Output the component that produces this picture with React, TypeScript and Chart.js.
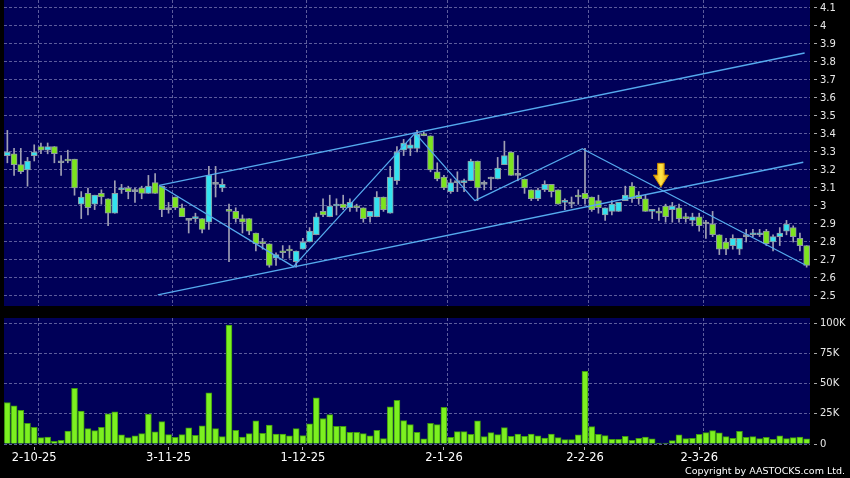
import React, { useEffect, useRef } from "react";
import { Chart, registerables } from "chart.js";

Chart.register(...registerables);

// ---------- data ----------
const dates = [
  "25-9-25", "26-9-25", "29-9-25", "30-9-25",
  "2-10-25", "3-10-25", "6-10-25", "8-10-25", "9-10-25", "10-10-25",
  "13-10-25", "14-10-25", "15-10-25", "16-10-25", "17-10-25",
  "20-10-25", "21-10-25", "22-10-25", "23-10-25", "24-10-25",
  "27-10-25", "28-10-25", "30-10-25", "31-10-25",
  "3-11-25", "4-11-25", "5-11-25", "6-11-25", "7-11-25",
  "10-11-25", "11-11-25", "12-11-25", "13-11-25", "14-11-25",
  "17-11-25", "18-11-25", "19-11-25", "20-11-25", "21-11-25",
  "24-11-25", "25-11-25", "26-11-25", "27-11-25", "28-11-25",
  "1-12-25", "2-12-25", "3-12-25", "4-12-25", "5-12-25",
  "8-12-25", "9-12-25", "10-12-25", "11-12-25", "12-12-25",
  "15-12-25", "16-12-25", "17-12-25", "18-12-25", "19-12-25",
  "22-12-25", "23-12-25", "24-12-25", "29-12-25", "30-12-25", "31-12-25",
  "2-1-26", "5-1-26", "6-1-26", "7-1-26", "8-1-26", "9-1-26",
  "12-1-26", "13-1-26", "14-1-26", "15-1-26", "16-1-26",
  "19-1-26", "20-1-26", "21-1-26", "22-1-26", "23-1-26",
  "26-1-26", "27-1-26", "28-1-26", "29-1-26", "30-1-26",
  "2-2-26", "3-2-26", "4-2-26", "5-2-26", "6-2-26",
  "9-2-26", "10-2-26", "11-2-26", "12-2-26", "13-2-26",
  "16-2-26", "20-2-26", "23-2-26", "24-2-26", "25-2-26", "26-2-26", "27-2-26",
  "2-3-26", "3-3-26", "4-3-26", "5-3-26", "6-3-26",
  "9-3-26", "10-3-26", "11-3-26", "12-3-26", "13-3-26",
  "16-3-26", "17-3-26", "18-3-26", "19-3-26", "20-3-26",
  "23-3-26", "24-3-26",
];

const opens = [
  3.28, 3.29, 3.23, 3.2, 3.28, 3.33, 3.31, 3.33, 3.24, 3.26,
  3.26, 3.01, 3.07, 3.01, 3.07, 3.04, 2.96, 3.09, 3.1, 3.08,
  3.1, 3.07, 3.13, 3.11, 2.98, 3.05, 2.99, 2.92, 2.93, 2.93,
  2.91, 3.12, 3.1, 2.98, 2.97, 2.93, 2.93, 2.85, 2.8, 2.79,
  2.71, 2.75, 2.76, 2.69, 2.76, 2.8, 2.84, 2.97, 2.94, 3.0,
  3.01, 2.99, 3.0, 2.99, 2.94, 2.94, 3.05, 2.96, 3.14, 3.31,
  3.32, 3.32, 3.4, 3.39, 3.19, 3.16, 3.08, 3.13, 3.13, 3.14,
  3.25, 3.12, 3.15, 3.15, 3.23, 3.3, 3.17, 3.15, 3.09, 3.04,
  3.09, 3.12, 3.09, 3.02, 3.01, 3.06, 3.07, 3.05, 3.03, 2.95,
  2.97, 2.97, 3.03, 3.11, 3.06, 3.04, 2.97, 2.97, 3.0, 2.98,
  2.99, 2.94, 2.92, 2.94, 2.9, 2.9, 2.84, 2.8, 2.78, 2.76,
  2.83, 2.84, 2.84, 2.86, 2.8, 2.83, 2.86, 2.88, 2.82, 2.78,
];
const highs = [
  3.42, 3.32, 3.32, 3.27, 3.34, 3.35, 3.35, 3.33, 3.28, 3.31,
  3.26, 3.08, 3.1, 3.06, 3.09, 3.04, 3.14, 3.12, 3.11, 3.1,
  3.11, 3.17, 3.18, 3.11, 3.02, 3.05, 3.01, 2.93, 2.96, 2.93,
  3.22, 3.22, 3.15, 3.01, 2.99, 2.95, 2.93, 2.85, 2.82, 2.79,
  2.74, 2.78, 2.78, 2.75, 2.82, 2.88, 2.96, 3.04, 3.06, 3.04,
  3.06, 3.04, 3.01, 2.99, 2.97, 3.08, 3.05, 3.22, 3.33, 3.37,
  3.37, 3.42, 3.41, 3.39, 3.24, 3.17, 3.15, 3.19, 3.15, 3.26,
  3.25, 3.14, 3.16, 3.27, 3.36, 3.3, 3.28, 3.15, 3.09, 3.1,
  3.14, 3.12, 3.09, 3.04, 3.05, 3.09, 3.32, 3.05, 3.06, 2.99,
  3.03, 3.02, 3.11, 3.13, 3.08, 3.06, 2.98, 2.99, 3.01, 3.02,
  3.01, 2.96, 2.96, 2.96, 2.92, 2.97, 2.84, 2.82, 2.84, 2.82,
  2.87, 2.87, 2.87, 2.87, 2.84, 2.88, 2.92, 2.89, 2.85, 2.78,
];
const lows = [
  3.24, 3.17, 3.18, 3.11, 3.25, 3.29, 3.29, 3.24, 3.17, 3.24,
  3.06, 2.93, 2.95, 2.98, 3.01, 2.89, 2.96, 3.07, 3.04, 3.02,
  3.04, 3.07, 3.07, 2.94, 2.96, 2.98, 2.94, 2.85, 2.91, 2.85,
  2.87, 3.05, 3.08, 2.69, 2.91, 2.85, 2.84, 2.75, 2.76, 2.66,
  2.67, 2.71, 2.71, 2.66, 2.76, 2.8, 2.84, 2.94, 2.94, 2.95,
  2.98, 2.97, 2.97, 2.91, 2.91, 2.94, 2.97, 2.96, 3.12, 3.28,
  3.28, 3.3, 3.39, 3.19, 3.14, 3.09, 3.07, 3.08, 3.08, 3.14,
  3.03, 3.09, 3.09, 3.15, 3.23, 3.17, 3.14, 3.07, 3.03, 3.03,
  3.08, 3.05, 3.01, 2.98, 2.99, 3.01, 3.01, 2.97, 2.96, 2.92,
  2.95, 2.97, 3.03, 3.02, 3.01, 2.97, 2.93, 2.92, 2.91, 2.91,
  2.91, 2.91, 2.89, 2.86, 2.82, 2.83, 2.73, 2.73, 2.76, 2.73,
  2.8, 2.83, 2.83, 2.78, 2.75, 2.78, 2.84, 2.8, 2.75, 2.66,
];
const closes = [
  3.3, 3.23, 3.19, 3.25, 3.3, 3.31, 3.33, 3.29, 3.24, 3.25,
  3.1, 3.05, 2.99, 3.06, 3.05, 2.96, 3.07, 3.1, 3.08, 3.08,
  3.07, 3.11, 3.07, 2.98, 2.98, 2.99, 2.94, 2.92, 2.94, 2.87,
  3.17, 3.12, 3.12, 2.97, 2.93, 2.91, 2.86, 2.79, 2.79, 2.67,
  2.73, 2.74, 2.75, 2.75, 2.8, 2.86, 2.94, 2.95, 3.0, 3.01,
  2.99, 3.02, 2.99, 2.93, 2.97, 3.05, 2.98, 3.16, 3.3, 3.35,
  3.34, 3.4, 3.39, 3.2, 3.15, 3.1, 3.13, 3.13, 3.14, 3.25,
  3.1, 3.12, 3.15, 3.21, 3.28, 3.17, 3.17, 3.1, 3.04, 3.09,
  3.12, 3.08, 3.01, 3.03, 3.01, 3.05, 3.04, 2.98, 2.99, 2.99,
  3.01, 3.02, 3.06, 3.04, 3.04, 2.97, 2.98, 2.96, 2.94, 3.0,
  2.93, 2.93, 2.94, 2.89, 2.9, 2.84, 2.76, 2.76, 2.82, 2.82,
  2.83, 2.85, 2.85, 2.79, 2.83, 2.85, 2.9, 2.83, 2.78, 2.67,
];
// volume in thousands of shares
const volumesK = [
  34.4, 31.7, 27.8, 17.2, 13.9, 5.3, 5.8, 2.2, 3.1, 10.8,
  46.1, 27.2, 12.8, 11.1, 13.9, 25.0, 26.7, 7.5, 5.3, 6.7,
  8.6, 24.7, 10.0, 18.6, 7.8, 5.6, 7.8, 13.3, 7.2, 15.0,
  42.5, 12.8, 6.1, 98.6, 11.4, 5.8, 8.6, 19.2, 8.9, 15.6,
  8.3, 8.3, 6.7, 12.8, 6.9, 16.7, 38.3, 21.1, 24.4, 14.7,
  14.7, 9.7, 9.7, 8.6, 6.7, 11.4, 4.4, 30.8, 36.1, 19.4,
  16.1, 9.7, 4.2, 17.2, 16.1, 30.3, 5.6, 10.3, 10.3, 8.1,
  19.2, 6.1, 9.4, 7.8, 13.6, 6.4, 8.3, 6.4, 8.3, 6.7,
  5.0, 8.3, 5.3, 3.6, 3.6, 7.5, 60.3, 14.4, 8.1, 6.9,
  3.9, 3.9, 6.4, 3.1, 4.7, 5.8, 4.2, 0.8, 0.8, 2.8,
  7.5, 4.4, 4.7, 8.1, 9.4, 11.1, 9.2, 6.1, 4.7, 10.6,
  5.6, 6.1, 4.4, 5.6, 3.9, 6.7, 4.4, 5.3, 5.8, 4.2,
];

const dateTickLabels = ["2-10-25", "3-11-25", "1-12-25", "2-1-26", "2-2-26", "2-3-26"];
const priceTicks = [2.5, 2.6, 2.7, 2.8, 2.9, 3.0, 3.1, 3.2, 3.3, 3.4, 3.5, 3.6, 3.7, 3.8, 3.9, 4.0, 4.1];
const volumeTicksK = [0, 25, 50, 75, 100];

// drawn trend lines: [candle index (fractional), price]
const channelUpper = [[22.6, 3.115], [118.7, 3.85]];
const channelLower = [[22.4, 2.506], [118.5, 3.243]];
const zigzag = [[22.6, 3.115], [42.6, 2.663], [60.7, 3.405], [69.6, 3.03], [85.6, 3.318], [118.8, 2.672]];
const trendLines = [channelUpper, channelLower, zigzag];
const arrowMark = { idx: 97.3, top: 3.237, tip: 3.106 };

const PRICE_MIN = 2.4444;
const PRICE_MAX = 4.1444;
const VOL_MAX_K = 104.4;

// ---------- styles ----------
const PLOT_BG = "#000058";
const GRID = "#5c5c9c";
const UP = "#33e2f0";
const DOWN = "#7ce41e";
const DOJI = "#9aa0a8";
const BODY_BORDER = "#8f9aa2";
const WICK = "#a0a0b4";
const TREND = "#55aaee";
const FONT = "DejaVu Sans";

function makePanelPlugin(tickIdx: number[]) {
  return {
    id: "panelBg",
    beforeDraw(chart: any) {
      const { ctx, chartArea: a } = chart;
      ctx.save();
      ctx.fillStyle = PLOT_BG;
      ctx.fillRect(a.left, a.top, a.right - a.left, a.bottom - a.top);
      const xs = chart.scales.x;
      ctx.strokeStyle = GRID;
      ctx.lineWidth = 1;
      ctx.setLineDash([3, 2]);
      tickIdx.forEach((i) => {
        const x = Math.round(xs.getPixelForValue(i + 0.5)) + 0.5;
        ctx.beginPath();
        ctx.moveTo(x, a.top);
        ctx.lineTo(x, a.bottom);
        ctx.stroke();
      });
      ctx.restore();
    },
  };
}

// trend lines and the arrow marker, placed through the chart's own scales
const overlayPlugin = {
  id: "overlay",
  afterDatasetsDraw(chart: any) {
    const { ctx, chartArea: a } = chart;
    const xs = chart.scales.x;
    const ys = chart.scales.y;
    ctx.save();
    ctx.beginPath();
    ctx.rect(a.left, a.top, a.right - a.left, a.bottom - a.top);
    ctx.clip();
    ctx.strokeStyle = TREND;
    ctx.lineWidth = 1.3;
    ctx.lineJoin = "round";
    trendLines.forEach((pts) => {
      ctx.beginPath();
      pts.forEach(([i, p], k) => {
        const x = xs.getPixelForValue(i);
        const y = ys.getPixelForValue(p);
        if (k === 0) ctx.moveTo(x, y);
        else ctx.lineTo(x, y);
      });
      ctx.stroke();
    });

    const cx = xs.getPixelForValue(arrowMark.idx);
    const yTop = ys.getPixelForValue(arrowMark.top);
    const yTip = ys.getPixelForValue(arrowMark.tip);
    const headY = yTop + (yTip - yTop) * 0.5;
    const sw = 3.3;
    const hw = 7.5;
    const g = ctx.createLinearGradient(cx - hw, 0, cx + hw, 0);
    g.addColorStop(0, "#e8a000");
    g.addColorStop(0.5, "#ffe64a");
    g.addColorStop(1, "#e8a000");
    ctx.fillStyle = g;
    ctx.strokeStyle = "#c88a00";
    ctx.lineWidth = 1;
    ctx.beginPath();
    ctx.moveTo(cx - sw, yTop);
    ctx.lineTo(cx + sw, yTop);
    ctx.lineTo(cx + sw, headY);
    ctx.lineTo(cx + hw, headY);
    ctx.lineTo(cx, yTip);
    ctx.lineTo(cx - hw, headY);
    ctx.lineTo(cx - sw, headY);
    ctx.closePath();
    ctx.fill();
    ctx.stroke();
    ctx.restore();
  },
};

export default function App() {
  const priceRef = useRef<HTMLCanvasElement>(null);
  const volRef = useRef<HTMLCanvasElement>(null);

  useEffect(() => {
    document.body.style.margin = "0";
    document.body.style.background = "#000";
    Chart.defaults.font.family = FONT;

    const tickIdx = dateTickLabels.map((l) => dates.indexOf(l));
    const bodyColors = closes.map((c, i) => (c > opens[i] ? UP : c < opens[i] ? DOWN : DOJI));

    const price = new Chart(priceRef.current as HTMLCanvasElement, {
      type: "bar",
      data: {
        labels: dates,
        datasets: [
          {
            label: "body",
            data: opens.map((o, i) => [o, closes[i]]),
            backgroundColor: bodyColors,
            borderColor: BODY_BORDER,
            borderWidth: 1,
            borderSkipped: false,
            barThickness: 6,
            minBarLength: 2,
            grouped: false,
            order: 1,
          },
          {
            label: "wick",
            data: lows.map((l, i) => [l, highs[i]]),
            backgroundColor: WICK,
            borderWidth: 0,
            barThickness: 1,
            grouped: false,
            order: 2,
          },
        ] as any,
      },
      options: {
        responsive: false,
        animation: false,
        events: [],
        layout: { padding: { left: 4, top: 0, right: 0, bottom: 4 } },
        plugins: { legend: { display: false }, tooltip: { enabled: false } },
        scales: {
          x: { type: "category", display: false, offset: true },
          y: {
            type: "linear",
            position: "right",
            min: PRICE_MIN,
            max: PRICE_MAX,
            afterBuildTicks: (s: any) => {
              s.ticks = priceTicks.map((v) => ({ value: v }));
            },
            afterFit: (s: any) => {
              s.width = 40;
              s.paddingTop = 0;
              s.paddingBottom = 0;
            },
            ticks: {
              color: "#e8e8e8",
              font: { family: FONT, size: 10 },
              padding: 2,
              callback: (v: any) => String(Number(Number(v).toFixed(1))),
            },
            grid: {
              color: GRID,
              lineWidth: 1,
              drawTicks: true,
              tickLength: 8,
              tickColor: "#a8a8a8",
              tickBorderDash: [0, 4, 3, 30],
              borderDash: [3, 2],
            } as any,
            border: { display: false, dash: [3, 2] },
          },
        } as any,
      },
      plugins: [makePanelPlugin(tickIdx), overlayPlugin],
    } as any);

    const vol = new Chart(volRef.current as HTMLCanvasElement, {
      type: "bar",
      data: {
        labels: dates,
        datasets: [
          {
            label: "volume",
            data: volumesK,
            backgroundColor: "#7cf020",
            borderColor: "#3f9a10",
            borderWidth: 1,
            barThickness: 6,
          },
        ],
      },
      options: {
        responsive: false,
        animation: false,
        events: [],
        layout: { padding: { left: 4, top: 8, right: 0, bottom: 0 } },
        plugins: { legend: { display: false }, tooltip: { enabled: false } },
        scales: {
          x: {
            type: "category",
            offset: true,
            afterBuildTicks: (s: any) => {
              s.ticks = tickIdx.map((v) => ({ value: v }));
            },
            afterFit: (s: any) => {
              s.height = 34;
              s.paddingLeft = 0;
              s.paddingRight = 0;
            },
            ticks: {
              color: "#ffffff",
              font: { family: FONT, size: 11.5 },
              padding: 1,
              autoSkip: false,
              maxRotation: 0,
              minRotation: 0,
            },
            grid: {
              offset: false,
              drawOnChartArea: false,
              drawTicks: true,
              tickLength: 6,
              tickColor: "#a8a8a8",
              tickBorderDash: [0, 3, 3, 30],
            },
            border: { display: false },
          },
          y: {
            type: "linear",
            position: "right",
            min: 0,
            max: VOL_MAX_K,
            afterBuildTicks: (s: any) => {
              s.ticks = volumeTicksK.map((v) => ({ value: v }));
            },
            afterFit: (s: any) => {
              s.width = 40;
              s.paddingTop = 0;
              s.paddingBottom = 0;
            },
            ticks: {
              color: "#e8e8e8",
              font: { family: FONT, size: 10 },
              padding: 2,
              callback: (v: any) => (Number(v) === 0 ? "0" : `${v}K`),
            },
            grid: {
              color: GRID,
              lineWidth: 1,
              drawTicks: true,
              tickLength: 8,
              tickColor: "#a8a8a8",
              tickBorderDash: [0, 4, 3, 30],
              borderDash: [3, 2],
            } as any,
            border: { display: false, dash: [3, 2] },
          },
        } as any,
      },
      plugins: [makePanelPlugin(tickIdx)],
    } as any);

    return () => {
      price.destroy();
      vol.destroy();
    };
  }, []);

  return (
    <div style={{ position: "relative", width: 850, height: 478, background: "#000", overflow: "hidden" }}>
      <canvas ref={priceRef} width={850} height={310} style={{ position: "absolute", left: 0, top: 0 }} />
      <canvas ref={volRef} width={850} height={168} style={{ position: "absolute", left: 0, top: 310 }} />
      <div
        style={{
          position: "absolute",
          right: 5,
          top: 465,
          fontFamily: FONT,
          fontSize: 9.5,
          lineHeight: "12px",
          color: "#ffffff",
          whiteSpace: "nowrap",
        }}
      >
        Copyright by AASTOCKS.com Ltd.
      </div>
    </div>
  );
}
